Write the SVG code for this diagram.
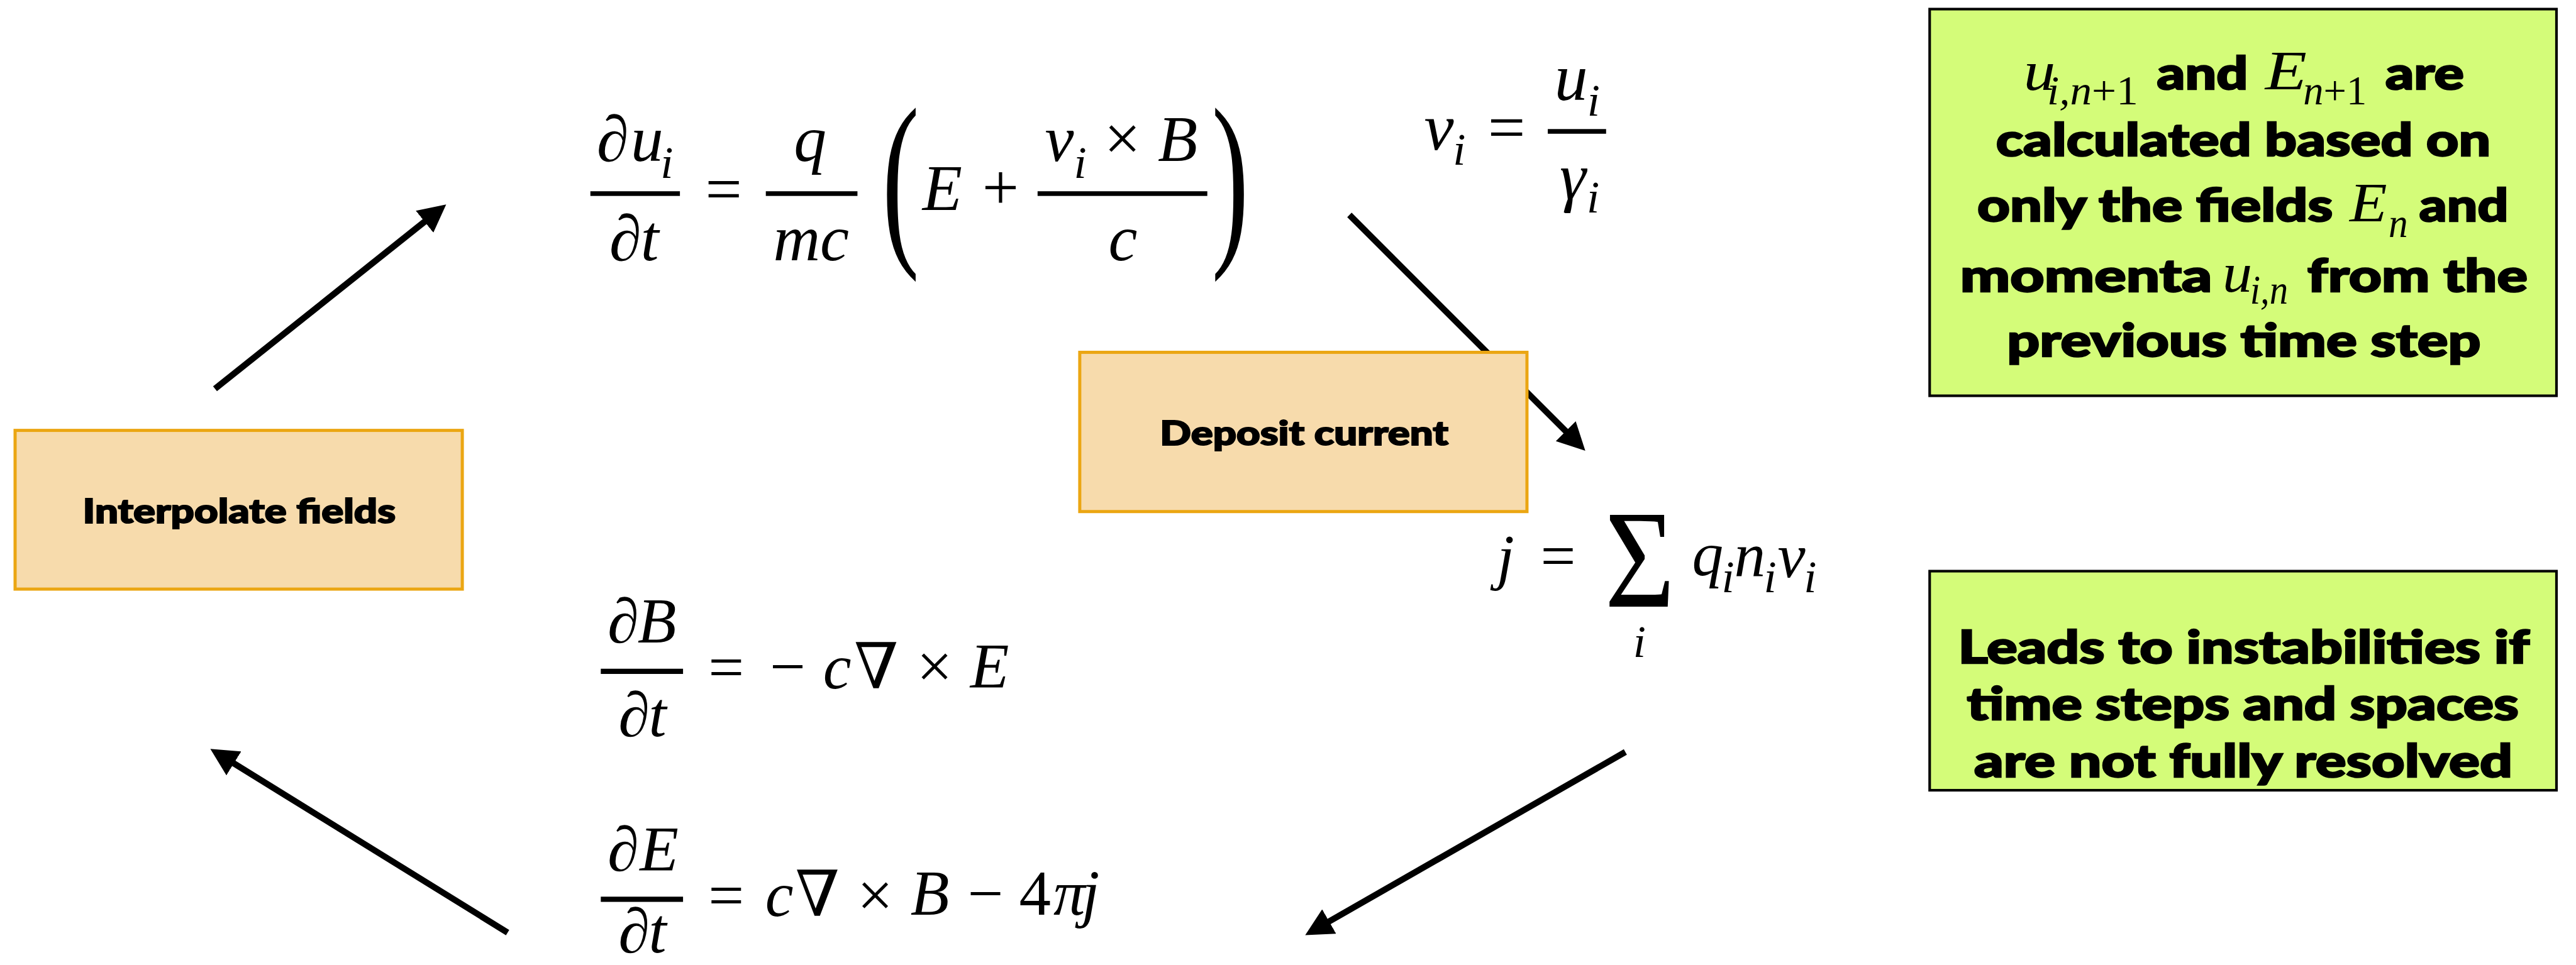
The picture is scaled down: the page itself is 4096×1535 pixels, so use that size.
<svg xmlns="http://www.w3.org/2000/svg" width="4096" height="1535" viewBox="0 0 4096 1535">
<defs>
<style>
.m{font-family:"Liberation Serif","DejaVu Serif",serif;font-style:italic;text-anchor:middle;fill:#000}
.u{font-style:normal}
.e1{font-size:125px}.e2{font-size:128px}.e3{font-size:120px}.e4{font-size:122px}
.sb{font-size:88px}
.b{font-family:Lato,"Open Sans","Liberation Sans",sans-serif;font-weight:900;fill:#000;stroke:#000;stroke-width:2.5px}
.bl{font-size:65px}.bg{font-size:88px;stroke-width:3px}
.gm{font-family:"Liberation Serif","DejaVu Serif",serif;font-style:italic;font-size:108px;fill:#000}
.gs{font-family:"Liberation Serif","DejaVu Serif",serif;font-style:italic;font-size:80px;fill:#000}
.box{fill:#F7DBAC;stroke:#EBA612;stroke-width:6}
.gbox{fill:#D4FC79;stroke:#000;stroke-width:5}
.bar{fill:#000}
.arr{stroke:#000;stroke-width:12;fill:none;marker-end:url(#ah)}
</style>
<marker id="ah" markerUnits="userSpaceOnUse" markerWidth="54" markerHeight="54" viewBox="0 0 54 54" refX="8" refY="27" orient="auto">
<path d="M0,0 L53,27 L0,54 z" fill="#000"/>
</marker>
</defs>
<g transform="scale(0.82781)">
<rect x="0" y="0" width="4948" height="1854" fill="#fff"/>
<g id="connectors">
<line class="arr" x1="413" y1="747" x2="821.8" y2="421"/>
<line class="arr" x1="2592" y1="413" x2="3013.2" y2="834.2"/>
<line class="arr" x1="3122" y1="1445" x2="2546.1" y2="1774.6"/>
<line class="arr" x1="975" y1="1792" x2="442.3" y2="1462.7"/>
</g>
<g id="interpolate-fields">
<rect class="box" x="29" y="827" width="859" height="305"/>
<text class="b bl" x="159" y="1005" textLength="601" lengthAdjust="spacingAndGlyphs">Interpolate fields</text>
</g>
<g id="deposit-current">
<rect class="box" x="2074" y="677" width="859" height="306"/>
<text class="b bl" x="2228" y="855" textLength="554" lengthAdjust="spacingAndGlyphs">Deposit current</text>
</g>
<g id="eq-momentum">
<text class="m e1" x="1177" y="309">∂</text>
<text class="m e1" x="1243" y="309">u</text>
<text class="m sb" x="1281" y="342">i</text>
<rect class="bar" x="1134" y="367.5" width="172" height="9"/>
<text class="m e1" x="1201" y="500">∂</text>
<text class="m e1" x="1248" y="500">t</text>
<text class="m u e1" x="1390" y="406">=</text>
<text class="m e1" x="1556" y="309">q</text>
<rect class="bar" x="1471" y="367.5" width="176" height="9"/>
<text class="m e1" x="1558" y="500">mc</text>
<text class="m u" font-size="369" transform="translate(1730,463) scale(0.58,1)">(</text>
<text class="m e1" x="1810" y="404">E</text>
<text class="m u e1" x="1922" y="402">+</text>
<text class="m e1" x="2035" y="309">v</text>
<text class="m sb" x="2075" y="342">i</text>
<text class="m u e1" x="2156" y="308">×</text>
<text class="m e1" x="2262" y="309">B</text>
<rect class="bar" x="1993" y="367.5" width="326" height="9"/>
<text class="m e1" x="2157" y="500">c</text>
<text class="m u" font-size="369" transform="translate(2363,463) scale(0.58,1)">)</text>
</g>
<g id="eq-velocity">
<text class="m e2" x="2764" y="287">v</text>
<text class="m sb" x="2803" y="317">i</text>
<text class="m u e2" x="2894" y="287">=</text>
<text class="m e2" x="3018" y="192">u</text>
<text class="m sb" x="3061" y="222">i</text>
<rect class="bar" x="2973" y="248" width="112" height="9"/>
<text class="m e2" x="3021" y="382">γ</text>
<text class="m sb" x="3060" y="408">i</text>
</g>
<g id="eq-current">
<text class="m e3" x="2892" y="1110">j</text>
<text class="m u e3" x="2993" y="1109">=</text>
<text class="m u" font-size="269" transform="translate(3150,1166) scale(0.86,1)">Σ</text>
<text class="m sb" x="3149" y="1262">i</text>
<text class="m e3" x="3280" y="1105">q</text>
<text class="m sb" x="3319" y="1138">i</text>
<text class="m e3" x="3361" y="1107">n</text>
<text class="m sb" x="3400" y="1138">i</text>
<text class="m e3" x="3441" y="1109">v</text>
<text class="m sb" x="3477" y="1138">i</text>
</g>
<g id="eq-faraday">
<text class="m e4" x="1197" y="1234">∂</text>
<text class="m e4" x="1262" y="1234">B</text>
<rect class="bar" x="1154" y="1285" width="158" height="10"/>
<text class="m e4" x="1218" y="1414">∂</text>
<text class="m e4" x="1263" y="1414">t</text>
<text class="m u e4" x="1395" y="1323">=</text>
<text class="m u e4" x="1513" y="1322">−</text>
<text class="m e4" x="1608" y="1323">c</text>
<text class="m u e4" x="1683" y="1323">∇</text>
<text class="m u e4" x="1795" y="1322">×</text>
<text class="m e4" x="1901" y="1322">E</text>
</g>
<g id="eq-ampere">
<text class="m e4" x="1197" y="1673">∂</text>
<text class="m e4" x="1266" y="1673">E</text>
<rect class="bar" x="1154" y="1723" width="158" height="10"/>
<text class="m e4" x="1218" y="1830">∂</text>
<text class="m e4" x="1263" y="1830">t</text>
<text class="m u e4" x="1395" y="1761">=</text>
<text class="m e4" x="1497" y="1760">c</text>
<text class="m u e4" x="1570" y="1760">∇</text>
<text class="m u e4" x="1681" y="1761">×</text>
<text class="m e4" x="1786" y="1758">B</text>
<text class="m u e4" x="1893" y="1758">−</text>
<text class="m u e4" x="1988" y="1758">4</text>
<text class="m e4" x="2054" y="1758">π</text>
<text class="m e4" x="2095" y="1758">j</text>
</g>
<g id="note-explicit">
<rect class="gbox" x="3706.5" y="17.5" width="1204" height="743"/>
<text class="gm" x="3887" y="173" textLength="61" lengthAdjust="spacingAndGlyphs">u</text>
<text class="gs" x="3932" y="200" textLength="175" lengthAdjust="spacingAndGlyphs">i,n<tspan font-style="normal">+1</tspan></text>
<text class="b bg" x="4143" y="172" textLength="175" lengthAdjust="spacingAndGlyphs">and</text>
<text class="gm" x="4351" y="172" textLength="80" lengthAdjust="spacingAndGlyphs">E</text>
<text class="gs" x="4424" y="200" textLength="122" lengthAdjust="spacingAndGlyphs">n<tspan font-style="normal">+1</tspan></text>
<text class="b bg" x="4582" y="172" textLength="151" lengthAdjust="spacingAndGlyphs">are</text>
<text class="b bg" x="3834" y="300" textLength="950" lengthAdjust="spacingAndGlyphs">calculated based on</text>
<text class="b bg" x="3798" y="425" textLength="683" lengthAdjust="spacingAndGlyphs">only the fields</text>
<text class="gm" x="4513" y="425" textLength="72" lengthAdjust="spacingAndGlyphs">E</text>
<text class="gs" x="4588" y="455" textLength="37" lengthAdjust="spacingAndGlyphs">n</text>
<text class="b bg" x="4647" y="425" textLength="171" lengthAdjust="spacingAndGlyphs">and</text>
<text class="b bg" x="3765" y="560" textLength="484" lengthAdjust="spacingAndGlyphs">momenta</text>
<text class="gm" x="4269" y="560" textLength="57" lengthAdjust="spacingAndGlyphs">u</text>
<text class="gs" x="4322" y="583" textLength="73" lengthAdjust="spacingAndGlyphs">i,n</text>
<text class="b bg" x="4432" y="560" textLength="423" lengthAdjust="spacingAndGlyphs">from the</text>
<text class="b bg" x="3855" y="685" textLength="910" lengthAdjust="spacingAndGlyphs">previous time step</text>
</g>
<g id="note-instabilities">
<rect class="gbox" x="3706.5" y="1097.5" width="1204" height="421"/>
<text class="b bg" x="3761" y="1275" textLength="1098" lengthAdjust="spacingAndGlyphs">Leads to instabilities if</text>
<text class="b bg" x="3778" y="1383" textLength="1060" lengthAdjust="spacingAndGlyphs">time steps and spaces</text>
<text class="b bg" x="3792" y="1493" textLength="1034" lengthAdjust="spacingAndGlyphs">are not fully resolved</text>
</g>
</g>
</svg>
